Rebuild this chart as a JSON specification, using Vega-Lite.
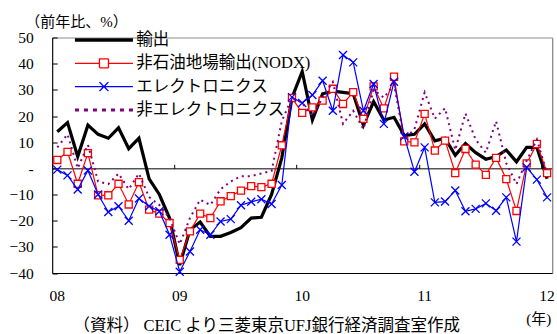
{
  "$schema": "https://vega.github.io/schema/vega-lite/v6.json",
  "width": 500,
  "height": 235.5,
  "autosize": "none",
  "padding": {"left": 52.2, "top": 37.5, "right": 4.8, "bottom": 61},
  "background": "white",
  "config": {
    "view": {"stroke": "#8c8c8c", "strokeWidth": 1},
    "font": "Liberation Serif, Noto Sans CJK JP"
  },
  "title": {
    "text": "（前年比、%）",
    "anchor": "start",
    "frame": "group",
    "dx": -27,
    "offset": 1,
    "font": "Liberation Serif, Noto Sans CJK JP",
    "fontSize": 15,
    "fontWeight": "normal",
    "color": "black"
  },
  "data": {
    "values": [
      {"m": "2008-01", "輸出": 14, "非石油地場輸出(NODX)": 3.2, "エレクトロニクス": -0.5, "非エレクトロニクス": 8},
      {"m": "2008-02", "輸出": 17.5, "非石油地場輸出(NODX)": 6.3, "エレクトロニクス": -2.7, "非エレクトロニクス": 13},
      {"m": "2008-03", "輸出": 4.5, "非石油地場輸出(NODX)": -5.9, "エレクトロニクス": -8.1, "非エレクトロニクス": 0},
      {"m": "2008-04", "輸出": 16.5, "非石油地場輸出(NODX)": 5.8, "エレクトロニクス": -0.8, "非エレクトロニクス": 9},
      {"m": "2008-05", "輸出": 13, "非石油地場輸出(NODX)": -10.3, "エレクトロニクス": -10, "非エレクトロニクス": -5},
      {"m": "2008-06", "輸出": 11.5, "非石油地場輸出(NODX)": -10.3, "エレクトロニクス": -16.7, "非エレクトロニクス": -6},
      {"m": "2008-07", "輸出": 15.5, "非石油地場輸出(NODX)": -5.9, "エレクトロニクス": -14.5, "非エレクトロニクス": -2},
      {"m": "2008-08", "輸出": 7.5, "非石油地場輸出(NODX)": -13.8, "エレクトロニクス": -20, "非エレクトロニクス": -8},
      {"m": "2008-09", "輸出": 11.5, "非石油地場輸出(NODX)": -5.3, "エレクトロニクス": -11.5, "非エレクトロニクス": -2},
      {"m": "2008-10", "輸出": -4, "非石油地場輸出(NODX)": -15.8, "エレクトロニクス": -14.5, "非エレクトロニクス": -11},
      {"m": "2008-11", "輸出": -10, "非石油地場輸出(NODX)": -17.3, "エレクトロニクス": -16.4, "非エレクトロニクス": -14},
      {"m": "2008-12", "輸出": -19, "非石油地場輸出(NODX)": -20.9, "エレクトロニクス": -25.4, "非エレクトロニクス": -19},
      {"m": "2009-01", "輸出": -37, "非石油地場輸出(NODX)": -35, "エレクトロニクス": -39.5, "非エレクトロニクス": -29},
      {"m": "2009-02", "輸出": -23.5, "非石油地場輸出(NODX)": -24.1, "エレクトロニクス": -31.8, "非エレクトロニクス": -19},
      {"m": "2009-03", "輸出": -20.5, "非石油地場輸出(NODX)": -17.3, "エレクトロニクス": -23.5, "非エレクトロニクス": -12},
      {"m": "2009-04", "輸出": -26, "非石油地場輸出(NODX)": -19, "エレクトロニクス": -25.4, "非エレクトロニクス": -14},
      {"m": "2009-05", "輸出": -26, "非石油地場輸出(NODX)": -12.6, "エレクトロニクス": -20.3, "非エレクトロニクス": -8},
      {"m": "2009-06", "輸出": -24.5, "非石油地場輸出(NODX)": -10.6, "エレクトロニクス": -19.4, "非エレクトロニクス": -5},
      {"m": "2009-07", "輸出": -22.7, "非石油地場輸出(NODX)": -8.5, "エレクトロニクス": -14.1, "非エレクトロニクス": -3},
      {"m": "2009-08", "輸出": -19, "非石油地場輸出(NODX)": -6.8, "エレクトロニクス": -12.8, "非エレクトロニクス": -3},
      {"m": "2009-09", "輸出": -18.7, "非石油地場輸出(NODX)": -7.2, "エレクトロニクス": -11.8, "非エレクトロニクス": -2},
      {"m": "2009-10", "輸出": -10, "非石油地場輸出(NODX)": -5.9, "エレクトロニクス": -13.6, "非エレクトロニクス": -1},
      {"m": "2009-11", "輸出": 4, "非石油地場輸出(NODX)": 8.8, "エレクトロニクス": -6.4, "非エレクトロニクス": 18},
      {"m": "2009-12", "輸出": 27, "非石油地場輸出(NODX)": 26.9, "エレクトロニクス": 27.2, "非エレクトロニクス": 27},
      {"m": "2010-01", "輸出": 37, "非石油地場輸出(NODX)": 21.2, "エレクトロニクス": 25, "非エレクトロニクス": 25},
      {"m": "2010-02", "輸出": 18.5, "非石油地場輸出(NODX)": 23.3, "エレクトロニクス": 28, "非エレクトロニクス": 20},
      {"m": "2010-03", "輸出": 28.5, "非石油地場輸出(NODX)": 25.9, "エレクトロニクス": 33.5, "非エレクトロニクス": 27},
      {"m": "2010-04", "輸出": 29.5, "非石油地場輸出(NODX)": 30.4, "エレクトロニクス": 22, "非エレクトロニクス": 33},
      {"m": "2010-05", "輸出": 29, "非石油地場輸出(NODX)": 24.6, "エレクトロニクス": 43.3, "非エレクトロニクス": 17},
      {"m": "2010-06", "輸出": 28.5, "非石油地場輸出(NODX)": 29.1, "エレクトロニクス": 40.5, "非エレクトロニクス": 22},
      {"m": "2010-07", "輸出": 16.5, "非石油地場輸出(NODX)": 18.9, "エレクトロニクス": 22, "非エレクトロニクス": 15},
      {"m": "2010-08", "輸出": 25.5, "非石油地場輸出(NODX)": 31.3, "エレクトロニクス": 32.2, "非エレクトロニクス": 30},
      {"m": "2010-09", "輸出": 18.5, "非石油地場輸出(NODX)": 22.9, "エレクトロニクス": 17, "非エレクトロニクス": 27},
      {"m": "2010-10", "輸出": 19.5, "非石油地場輸出(NODX)": 35, "エレクトロニクス": 33.1, "非エレクトロニクス": 32},
      {"m": "2010-11", "輸出": 12.5, "非石油地場輸出(NODX)": 10.3, "エレクトロニクス": 12.2, "非エレクトロニクス": 11},
      {"m": "2010-12", "輸出": 13, "非石油地場輸出(NODX)": 9.9, "エレクトロニクス": -1.3, "非エレクトロニクス": 15},
      {"m": "2011-01", "輸出": 17, "非石油地場輸出(NODX)": 20.8, "エレクトロニクス": 8, "非エレクトロニクス": 29},
      {"m": "2011-02", "輸出": 10.5, "非石油地場輸出(NODX)": 6.8, "エレクトロニクス": -13, "非エレクトロニクス": 19},
      {"m": "2011-03", "輸出": 11.5, "非石油地場輸出(NODX)": 10.6, "エレクトロニクス": -12.7, "非エレクトロニクス": 23},
      {"m": "2011-04", "輸出": 5, "非石油地場輸出(NODX)": -1.8, "エレクトロニクス": -8.5, "非エレクトロニクス": 7},
      {"m": "2011-05", "輸出": 9.5, "非石油地場輸出(NODX)": 7.4, "エレクトロニクス": -16.4, "非エレクトロニクス": 21},
      {"m": "2011-06", "輸出": 6, "非石油地場輸出(NODX)": 1.4, "エレクトロニクス": -15.5, "非エレクトロニクス": 11},
      {"m": "2011-07", "輸出": 3.5, "非石油地場輸出(NODX)": -2.5, "エレクトロニクス": -13.4, "非エレクトロニクス": 6},
      {"m": "2011-08", "輸出": 4.5, "非石油地場輸出(NODX)": 4, "エレクトロニクス": -16.2, "非エレクトロニクス": 18},
      {"m": "2011-09", "輸出": 7, "非石油地場輸出(NODX)": -4.1, "エレクトロニクス": -11.1, "非エレクトロニクス": 2},
      {"m": "2011-10", "輸出": 2.5, "非石油地場輸出(NODX)": -16.3, "エレクトロニクス": -28, "非エレクトロニクス": -6},
      {"m": "2011-11", "輸出": 8, "非石油地場輸出(NODX)": 1.9, "エレクトロニクス": 0.4, "非エレクトロニクス": 3},
      {"m": "2011-12", "輸出": 8, "非石油地場輸出(NODX)": 9.3, "エレクトロニクス": -4.3, "非エレクトロニクス": 11},
      {"m": "2012-01", "輸出": -4, "非石油地場輸出(NODX)": -1.8, "エレクトロニクス": -11.1, "非エレクトロニクス": -2}
    ]
  },
  "transform": [
    {"fold": ["輸出", "非石油地場輸出(NODX)", "エレクトロニクス", "非エレクトロニクス"], "as": ["series", "value"]}
  ],
  "resolve": {"axis": {"x": "independent", "y": "independent"}},
  "encoding": {
    "x": {"field": "m", "type": "ordinal", "bandPosition": 0.5, "scale": {"type": "band", "paddingInner": 0, "paddingOuter": 0}, "axis": null},
    "y": {"field": "value", "type": "quantitative", "scale": {"domain": [-40, 50], "nice": false, "zero": false}, "axis": null}
  },
  "layer": [
    {
      "transform": [{"filter": "datum.series === '輸出'"}],
      "mark": {"type": "line", "strokeWidth": 3.2},
      "encoding": {
        "x": {
          "field": "m", "type": "ordinal", "bandPosition": 0.5,
          "scale": {"type": "band", "paddingInner": 0, "paddingOuter": 0},
          "axis": {
            "orient": "bottom",
            "values": ["2008-01", "2009-01", "2010-01", "2011-01", "2012-01"],
            "bandPosition": 0.5,
            "labelExpr": "substring(datum.value, 2, 4)",
            "labelAngle": 0,
            "ticks": false,
            "grid": false,
            "domainColor": "black",
            "domainWidth": 1,
            "labelPadding": 15,
            "labelFont": "Liberation Serif, Noto Sans CJK JP",
            "labelFontSize": 15.5,
            "labelColor": "black",
            "title": "（資料）  CEIC  より三菱東京UFJ銀行経済調査室作成",
            "titleX": 214,
            "titleY": 52,
            "titleAlign": "center",
            "titleBaseline": "middle",
            "titleFont": "Liberation Serif, Noto Sans CJK JP",
            "titleFontSize": 16.5,
            "titleFontWeight": "normal",
            "titleColor": "black"
          }
        },
        "y": {
          "field": "value", "type": "quantitative",
          "scale": {"domain": [-40, 50], "nice": false, "zero": false},
          "axis": {
            "orient": "left",
            "values": [-40, -30, -20, -10, 0, 10, 20, 30, 40, 50],
            "labelExpr": "datum.value === 0 ? '-' : datum.label",
            "tickSize": -5,
            "tickColor": "black",
            "domainColor": "black",
            "grid": false,
            "labelPadding": 24,
            "labelFont": "Liberation Serif, Noto Sans CJK JP",
            "labelFontSize": 15.5,
            "labelColor": "black",
            "title": null
          }
        },
        "color": {
          "field": "series", "type": "nominal",
          "scale": {"domain": ["輸出", "非石油地場輸出(NODX)", "エレクトロニクス", "非エレクトロニクス"], "range": ["#000000", "#ff0000", "#0000ff", "#800080"]},
          "legend": {
            "title": null,
            "orient": "none",
            "legendX": 43.5,
            "legendY": -5.75,
            "padding": 0,
            "symbolSize": 100,
            "symbolType": {"expr": "(datum.value === '非石油地場輸出(NODX)' ? 'M-5.8,0H-0.9M0.9,0H5.8M-0.9,-0.9H0.9V0.9H-0.9Z' : datum.value === 'エレクトロニクス' ? 'M-5.8,0H5.8M-0.9,-0.9L0.9,0.9M-0.9,0.9L0.9,-0.9' : 'M-5.8,0H5.8')"},
            "symbolStrokeWidth": {"expr": "(datum.value === '輸出' ? 3.5 : datum.value === '非エレクトロニクス' ? 3 : 1.3)"},
            "symbolDash": {"expr": "(datum.value === '非エレクトロニクス' ? [4, 5] : [1, 0])"},
            "labelFont": "Liberation Serif, Noto Sans CJK JP",
            "labelFontSize": 16.5,
            "labelColor": "black",
            "labelLimit": 0,
            "labelOffset": 24,
            "rowPadding": 6.3
          }
        }
      }
    },
    {
      "transform": [{"filter": "datum.series === '非石油地場輸出(NODX)'"}],
      "mark": {"type": "line", "strokeWidth": 1.2},
      "encoding": {
        "x": {
          "field": "m", "type": "ordinal", "bandPosition": 0.5,
          "scale": {"type": "band", "paddingInner": 0, "paddingOuter": 0},
          "axis": {
            "orient": "top",
            "offset": -130.83,
            "values": ["2008-01", "2009-01", "2010-01", "2011-01", "2012-01"],
            "bandPosition": 0,
            "labels": false,
            "tickSize": 4,
            "tickColor": "black",
            "domainColor": "black",
            "grid": false,
            "title": null
          }
        },
        "y": {
          "field": "value", "type": "quantitative",
          "scale": {"domain": [-40, 50], "nice": false, "zero": false},
          "axis": {
            "orient": "right",
            "ticks": false,
            "labels": false,
            "grid": false,
            "domainColor": "#8c8c8c",
            "title": "(年)",
            "titleAngle": 0,
            "titleX": -14,
            "titleY": 281,
            "titleAlign": "center",
            "titleBaseline": "middle",
            "titleFont": "Liberation Serif, Noto Sans CJK JP",
            "titleFontSize": 15,
            "titleFontWeight": "normal",
            "titleColor": "black"
          }
        },
        "color": {"field": "series", "type": "nominal"}
      }
    },
    {
      "transform": [{"filter": "datum.series === '非石油地場輸出(NODX)'"}],
      "mark": {"type": "point", "shape": "square", "size": 50, "filled": true, "fill": "white", "stroke": "#ff0000", "strokeWidth": 1.3, "opacity": 1}
    },
    {
      "transform": [{"filter": "datum.series === 'エレクトロニクス'"}],
      "mark": {"type": "line", "strokeWidth": 1.2},
      "encoding": {"color": {"field": "series", "type": "nominal"}}
    },
    {
      "transform": [{"filter": "datum.series === 'エレクトロニクス'"}],
      "mark": {"type": "point", "shape": "M-1,-1L1,1M-1,1L1,-1", "size": 64, "filled": false, "stroke": "#0000ff", "strokeWidth": 1.3, "opacity": 1}
    },
    {
      "transform": [{"filter": "datum.series === '非エレクトロニクス'"}],
      "mark": {"type": "line", "strokeWidth": 2, "strokeDash": [2, 4]},
      "encoding": {"color": {"field": "series", "type": "nominal"}}
    }
  ]
}
